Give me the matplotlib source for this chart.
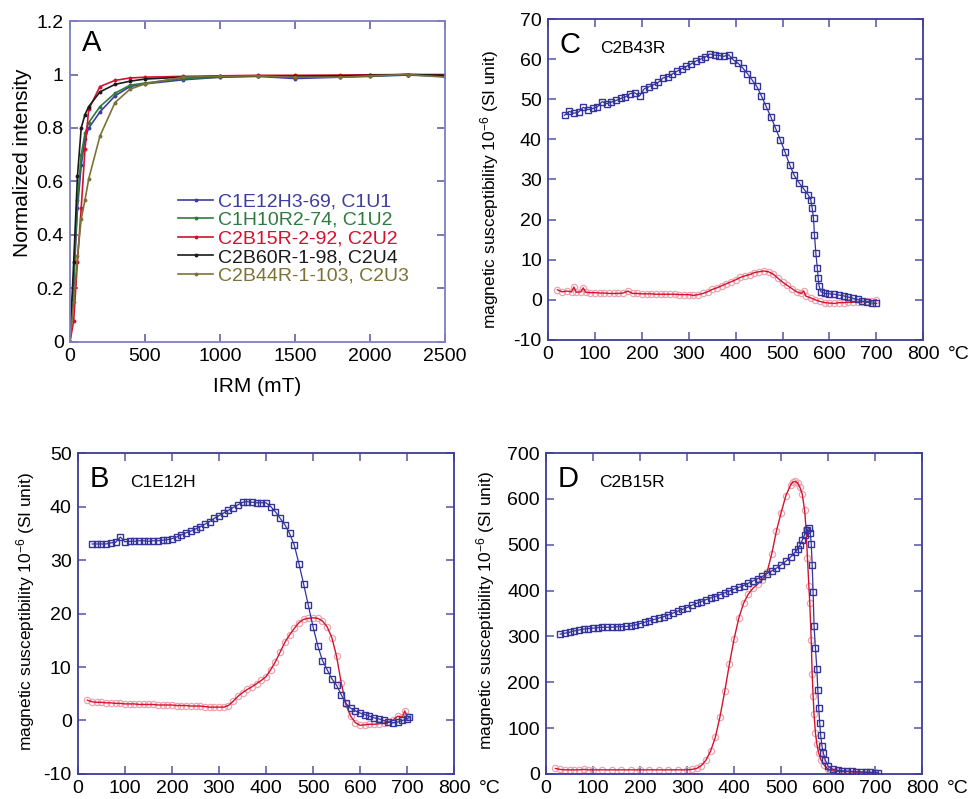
import matplotlib
matplotlib.use("Agg")
import matplotlib.pyplot as plt
from matplotlib.ticker import FuncFormatter, MultipleLocator

plt.rcParams['font.family'] = ['Liberation Sans', 'DejaVu Sans']
plt.rcParams['mathtext.fontset'] = 'custom'
plt.rcParams['mathtext.rm'] = 'Liberation Sans'
plt.rcParams['mathtext.it'] = 'Liberation Sans:italic'
plt.rcParams['axes.unicode_minus'] = False

# ---- panel A: IRM acquisition curves ----
irm_field = [0, 25, 50, 75, 100, 125, 200, 300, 400, 500, 750, 1000, 1250, 1500, 1800, 2000, 2250, 2500]
irm_names = ["C1E12H3-69, C1U1", "C1H10R2-74, C1U2", "C2B15R-2-92, C2U2",
             "C2B60R-1-98, C2U4", "C2B44R-1-103, C2U3"]
irm_colors = ['#3d3d9e', '#2f7a3f', '#d4102c', '#1a1a1a', '#7d7235']
irm_c1u1 = [0, 0.22, 0.50, 0.66, 0.76, 0.80, 0.86, 0.92, 0.955, 0.965, 0.98, 0.99, 0.993, 0.985, 0.99, 0.993, 0.998, 0.993]
irm_c1u2 = [0, 0.24, 0.53, 0.70, 0.78, 0.82, 0.88, 0.93, 0.96, 0.968, 0.985, 0.99, 0.995, 0.99, 0.992, 0.995, 1.0, 0.993]
irm_c2u2 = [0, 0.08, 0.30, 0.50, 0.72, 0.87, 0.955, 0.978, 0.987, 0.99, 0.993, 0.995, 0.997, 0.997, 0.998, 0.999, 1.0, 1.0]
irm_c2u4 = [0, 0.30, 0.62, 0.80, 0.85, 0.88, 0.935, 0.963, 0.975, 0.983, 0.99, 0.993, 0.995, 0.993, 0.995, 0.997, 1.0, 0.997]
irm_c2u3 = [0, 0.15, 0.32, 0.46, 0.53, 0.61, 0.77, 0.895, 0.945, 0.965, 0.99, 0.993, 0.995, 0.99, 0.99, 0.995, 1.0, 0.99]
irm_series = [irm_c1u1, irm_c1u2, irm_c2u2, irm_c2u4, irm_c2u3]

# ---- panel B: C1E12H ----
b_heat_t = [30, 40, 50, 60, 70, 80, 90, 100, 110, 120, 130, 140, 150, 160, 170, 180, 190, 200, 210, 220,
            230, 240, 250, 260, 270, 280, 290, 300, 310, 320, 330, 340, 350, 360, 370, 380, 390, 400, 410,
            420, 430, 440, 450, 460, 470, 480, 490, 500, 510, 520, 530, 540, 550, 560, 570, 580, 590, 600,
            610, 620, 630, 640, 650, 660, 670, 680, 690, 700, 705]
b_heat_k = [33.0, 33.0, 33.0, 33.0, 33.2, 33.3, 34.3, 33.4, 33.5, 33.5, 33.6, 33.6, 33.5, 33.6, 33.6, 33.7,
            33.8, 34.0, 34.3, 34.7, 35.1, 35.4, 35.8, 36.2, 36.7, 37.2, 37.8, 38.3, 38.8, 39.3, 39.8, 40.3,
            40.8, 40.9, 40.8, 40.7, 40.7, 40.7, 40.0, 39.0, 37.8, 36.6, 35.0, 32.8, 29.3, 25.5, 21.5, 17.5,
            14.0, 11.2, 9.5, 7.8, 6.6, 4.8, 3.2, 2.3, 1.8, 1.4, 1.1, 0.8, 0.5, 0.3, 0.0, -0.3, -0.4, -0.3,
            0.0, 0.3, 0.6]
b_cool_t = [20, 30, 40, 50, 60, 70, 80, 90, 100, 110, 120, 130, 140, 150, 160, 170, 180, 190, 200, 210, 220,
            230, 240, 250, 260, 270, 280, 290, 300, 310, 320, 330, 340, 350, 360, 370, 380, 390, 400, 410,
            420, 430, 440, 450, 460, 470, 480, 490, 500, 510, 520, 530, 540, 550, 560, 570, 580, 590, 600,
            610, 620, 630, 640, 650, 660, 670, 680, 690, 695, 700]
b_cool_k = [3.8, 3.5, 3.4, 3.4, 3.3, 3.3, 3.2, 3.2, 3.1, 3.1, 3.1, 3.0, 3.0, 3.0, 3.0, 2.9, 2.9, 2.9, 2.9,
            2.8, 2.8, 2.8, 2.7, 2.7, 2.7, 2.6, 2.5, 2.5, 2.5, 2.5, 2.8, 3.6, 4.5, 5.2, 5.8, 6.3, 6.9, 7.5,
            8.2, 9.5, 11.0, 12.8, 14.6, 16.0, 17.2, 18.3, 18.9, 19.1, 19.2, 19.1, 18.6, 17.5, 15.5, 12.0,
            7.0, 3.0, 0.8, -0.4, -0.9, -0.8, -0.7, -0.7, -0.6, -0.5, -0.3, 0.1, 0.8, 0.6, 1.8, 0.8]

# ---- panel C: C2B43R ----
c_heat_t = [35, 45, 55, 65, 75, 85, 95, 105, 115, 125, 135, 145, 155, 165, 175, 185, 195, 205, 215, 225,
            235, 245, 255, 265, 275, 285, 295, 305, 315, 325, 335, 345, 355, 365, 375, 385, 395, 405, 415,
            425, 435, 445, 455, 465, 475, 485, 495, 505, 515, 525, 535, 545, 555, 560, 563, 566, 568, 571,
            574, 576, 578, 582, 590, 600, 610, 620, 630, 640, 650, 660, 670, 680, 690, 700]
c_heat_k = [46.0, 47.0, 46.5, 46.8, 48.0, 47.4, 47.7, 48.1, 49.4, 48.9, 49.3, 49.7, 50.2, 50.6, 51.4, 51.6,
            50.8, 52.6, 53.1, 53.6, 54.2, 55.3, 55.6, 56.3, 57.0, 57.6, 58.2, 58.8, 59.5, 60.0, 60.5, 61.3,
            61.0, 60.9, 60.7, 61.1, 59.8, 59.0, 57.8, 56.4, 54.8, 53.2, 50.8, 48.2, 45.6, 42.8, 39.9, 36.9,
            33.7, 31.0, 29.2, 27.7, 26.1, 25.0, 23.0, 20.3, 16.2, 11.6, 8.0, 5.4, 3.4, 2.0, 1.6, 1.5, 1.4,
            1.2, 1.0, 0.7, 0.4, 0.1, -0.3, -0.6, -0.8, -0.9]
c_cool_t = [20, 30, 40, 50, 55, 60, 70, 75, 80, 90, 100, 110, 120, 130, 140, 150, 160, 170, 180, 190, 200,
            210, 220, 230, 240, 250, 260, 270, 280, 290, 300, 310, 320, 330, 340, 350, 360, 370, 380, 390,
            400, 410, 420, 430, 440, 450, 460, 470, 480, 490, 500, 510, 520, 530, 540, 545, 550, 560, 570,
            580, 590, 600, 610, 620, 630, 640, 650, 660, 670, 680, 690, 700]
c_cool_k = [2.5, 2.0, 2.2, 2.0, 3.2, 1.9, 2.0, 3.0, 1.9, 1.8, 1.8, 1.7, 1.7, 1.6, 1.6, 1.6, 1.7, 2.2, 1.6,
            1.6, 1.5, 1.5, 1.5, 1.4, 1.4, 1.4, 1.4, 1.4, 1.3, 1.3, 1.3, 1.1, 1.3, 1.6, 2.0, 2.6, 3.0, 3.5,
            4.0, 4.5, 5.0, 5.6, 6.0, 6.3, 6.8, 7.0, 7.2, 7.0, 6.4, 5.4, 4.4, 3.6, 2.8, 2.0, 1.6, 2.2, 0.9,
            0.5, 0.0, -0.4, -0.7, -0.8, -0.9, -0.7, -0.7, -0.6, -0.6, -0.5, -0.5, -0.4, -0.3, 0.0]

# ---- panel D: C2B15R ----
d_heat_t = [30, 40, 50, 60, 70, 80, 90, 100, 110, 120, 130, 140, 150, 160, 170, 180, 190, 200, 210, 220,
            230, 240, 250, 260, 270, 280, 290, 300, 310, 320, 330, 340, 350, 360, 370, 380, 390, 400, 410,
            420, 430, 440, 450, 460, 470, 480, 490, 500, 510, 520, 530, 535, 540, 545, 550, 555, 559, 562,
            564, 566, 568, 570, 573, 576, 578, 580, 582, 584, 587, 590, 594, 600, 610, 620, 630, 640, 650,
            660, 670, 680, 690, 700, 705]
d_heat_k = [305, 307, 309, 312, 314, 316, 317, 318, 319, 320, 320, 320, 321, 321, 322, 323, 325, 328, 331,
            334, 337, 340, 343, 347, 351, 355, 359, 363, 368, 372, 376, 380, 384, 387, 391, 395, 399, 403,
            407, 411, 416, 421, 426, 431, 437, 443, 449, 456, 464, 473, 484, 490, 499, 510, 522, 532, 537,
            526, 502, 456, 397, 323, 274, 229, 183, 143, 112, 85, 60, 45, 30, 17, 10, 8, 7, 6.5, 6, 5, 4.5,
            4, 3.5, 3, 3]
d_cool_t = [20, 30, 40, 50, 60, 70, 80, 90, 100, 120, 140, 160, 180, 200, 220, 240, 260, 280, 300, 310, 320,
            330, 340, 350, 360, 370, 380, 390, 400, 410, 420, 430, 440, 450, 460, 470, 480, 490, 500, 510,
            520, 525, 530, 535, 540, 545, 550, 553, 556, 559, 561, 564, 566, 568, 570, 573, 576, 580, 585,
            591, 600, 610, 620, 640, 660, 680, 700]
d_cool_k = [12, 10, 9, 9, 9, 9, 10, 9, 9, 9, 9, 9, 9, 9, 9, 9, 9, 9, 9, 10, 12, 18, 30, 50, 80, 125, 180,
            240, 295, 340, 372, 392, 405, 414, 424, 440, 480, 530, 570, 607, 630, 637, 638, 635, 625, 610,
            575, 535, 470, 410, 372, 292, 219, 170, 130, 89, 65, 45, 30, 20, 10, 7, 6, 5, 4, 4, 3]

HEAT_COLOR = '#34349a'
COOL_LINE = '#d2142d'
COOL_MARK = '#eda3b0'
TICK_COLOR = '#6c6cb6'


def style_axes(ax, spine_color):
    for sp in ax.spines.values():
        sp.set_color(spine_color)
        sp.set_linewidth(1.3)
    ax.tick_params(direction='in', top=True, right=True, length=5.5, width=1.3,
                   color=TICK_COLOR, labelsize=14, pad=4.5, labelcolor='black')


def temp_panel(rect, heat_t, heat_k, cool_t, cool_k, ylim, ystep, letter, sample, label_xy):
    ax = fig.add_axes(rect)
    ax.plot(cool_t, cool_k, 'o', ms=4.5, mfc='none', mec=COOL_MARK, mew=0.9, zorder=2)
    ax.plot(cool_t, cool_k, '-', color=COOL_LINE, lw=1.0, zorder=3)
    ax.plot(heat_t, heat_k, '-s', color=HEAT_COLOR, ms=4.5, mfc='none', mec=HEAT_COLOR,
            mew=1.0, lw=0.9, zorder=4)
    ax.set_xlim(0, 800)
    ax.set_ylim(*ylim)
    ax.xaxis.set_major_locator(MultipleLocator(100))
    ax.yaxis.set_major_locator(MultipleLocator(ystep))
    style_axes(ax, '#3c3c9c')
    ax.set_ylabel('magnetic susceptibility 10$^{-6}$ (SI unit)', fontsize=12.5)
    ax.yaxis.set_label_coords(*label_xy)
    ax.text(0.03, 0.895, letter, transform=ax.transAxes, fontsize=21, va='baseline')
    ax.text(0.14, 0.895, sample, transform=ax.transAxes, fontsize=12.5, va='baseline')
    ax.annotate('°C', xy=(1, 0), xycoords='axes fraction', xytext=(18, -4.5),
                textcoords='offset points', ha='left', va='top', fontsize=14)
    return ax


fig = plt.figure(figsize=(9.77, 7.99), dpi=100)

# panel A
ax_a = fig.add_axes([0.0716, 0.572, 0.384, 0.4017])
for vals, name, col in zip(irm_series, irm_names, irm_colors):
    ax_a.plot(irm_field, vals, '-o', color=col, lw=1.2, ms=1.8, label=name)
ax_a.set_xlim(0, 2500)
ax_a.set_ylim(0, 1.2)
ax_a.xaxis.set_major_locator(MultipleLocator(500))
ax_a.yaxis.set_major_locator(MultipleLocator(0.2))
ax_a.yaxis.set_major_formatter(FuncFormatter(lambda v, p: '%g' % round(v, 2)))
style_axes(ax_a, '#7f7fc2')
ax_a.set_ylabel('Normalized intensity', fontsize=15)
ax_a.yaxis.set_label_coords(-0.1, 0.557)
ax_a.set_xlabel('IRM (mT)', fontsize=15)
ax_a.xaxis.set_label_coords(0.5, -0.11)
ax_a.text(0.032, 0.907, 'A', transform=ax_a.transAxes, fontsize=21, va='baseline')
ax_a.legend(loc='upper left', bbox_to_anchor=(0.288, 0.465), frameon=False, fontsize=14,
            handlelength=1.8, handletextpad=0.25, labelspacing=0.05, borderpad=0,
            borderaxespad=0, labelcolor='linecolor')

temp_panel([0.561, 0.5745, 0.384, 0.4017], c_heat_t, c_heat_k, c_cool_t, c_cool_k,
           (-10, 70), 10, 'C', 'C2B43R', (-0.125, 0.47))
temp_panel([0.0798, 0.0313, 0.385, 0.4017], b_heat_t, b_heat_k, b_cool_t, b_cool_k,
           (-10, 50), 10, 'B', 'C1E12H', (-0.109, 0.505))
temp_panel([0.5589, 0.0313, 0.385, 0.4017], d_heat_t, d_heat_k, d_cool_t, d_cool_k,
           (0, 700), 100, 'D', 'C2B15R', (-0.13, 0.508))

fig.savefig('out.png', dpi=100)
